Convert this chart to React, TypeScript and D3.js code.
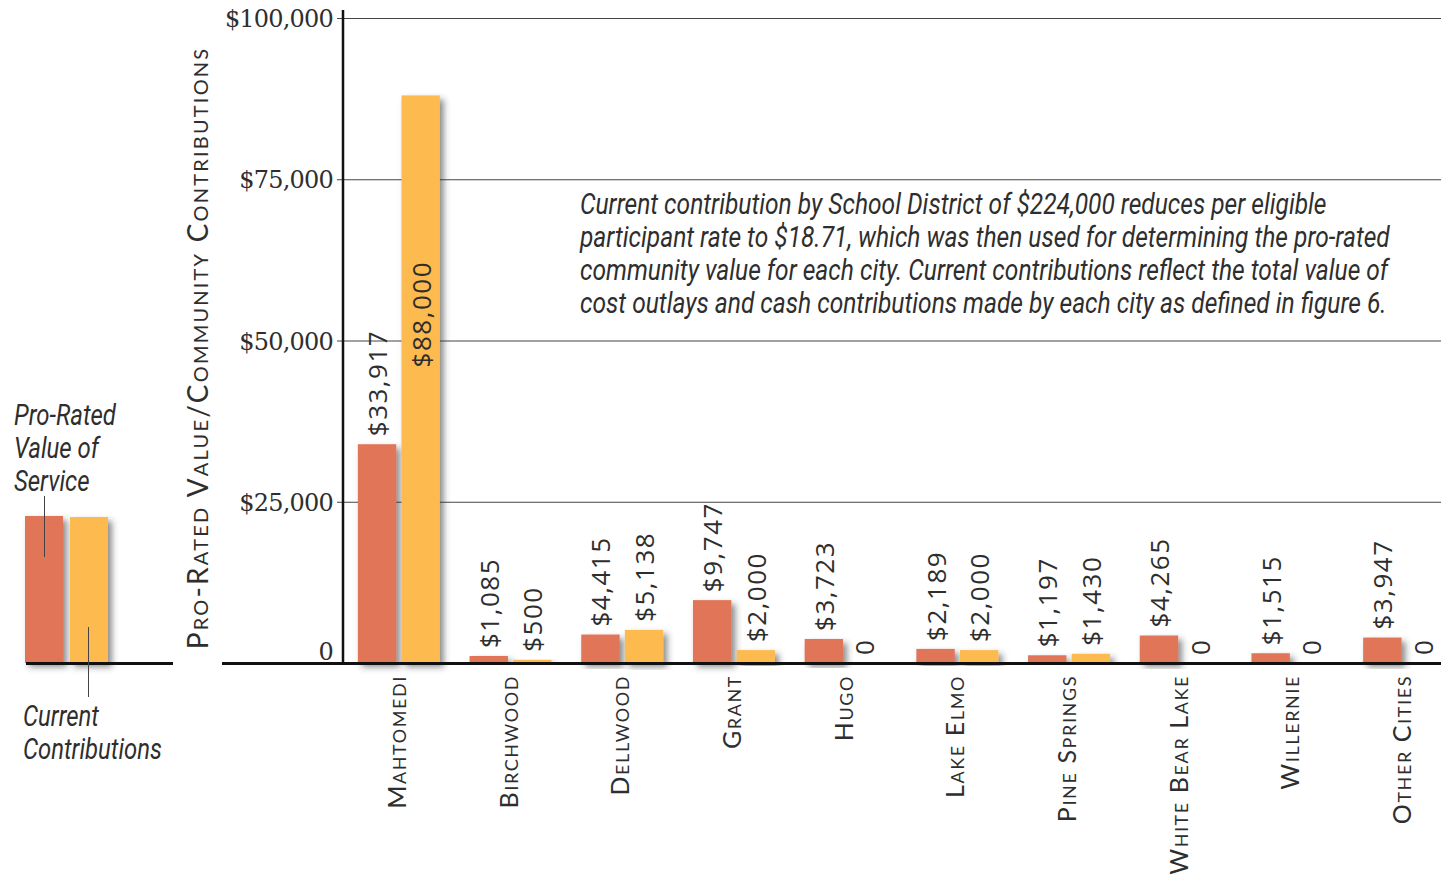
import React, { useEffect, useRef } from "react";
import * as d3 from "d3";

// ---------- data ----------
const cities = [
  "Mahtomedi",
  "Birchwood",
  "Dellwood",
  "Grant",
  "Hugo",
  "Lake Elmo",
  "Pine Springs",
  "White Bear Lake",
  "Willernie",
  "Other Cities",
];
const proRatedValue = [33917, 1085, 4415, 9747, 3723, 2189, 1197, 4265, 1515, 3947];
const currentContributions = [88000, 500, 5138, 2000, 0, 2000, 1430, 0, 0, 0];
const seriesKeys = ["proRated", "current"];
const yTicks = [0, 25000, 50000, 75000, 100000];
const yAxisTitle = "Pro-Rated Value/Community Contributions";
const legendTopLines = ["Pro-Rated", "Value of", "Service"];
const legendBottomLines = ["Current", "Contributions"];
const annotationLines = [
  "Current contribution by School District of $224,000 reduces per eligible",
  "participant rate to $18.71, which was then used for determining the pro-rated",
  "community value for each city. Current contributions reflect the total value of",
  "cost outlays and cash contributions made by each city as defined in figure 6.",
];

// ---------- style ----------
const W = 1441;
const H = 875;
const RED = "#E07459";
const ORANGE = "#FDBB4F";
const TEXT = "#2e2e2e";
const SANS = "Lato, 'Open Sans', sans-serif";
const ITALIC = "Roboto, 'Open Sans', sans-serif";

export default function App() {
  const ref = useRef<SVGSVGElement>(null);

  useEffect(() => {
    const svg = d3.select(ref.current);
    svg.selectAll("*").remove();

    const defs = svg.append("defs");
    const f = defs
      .append("filter")
      .attr("id", "shadow")
      .attr("x", "-20%")
      .attr("y", "-20%")
      .attr("width", "160%")
      .attr("height", "140%");
    f.append("feDropShadow")
      .attr("dx", 4)
      .attr("dy", 4)
      .attr("stdDeviation", 3)
      .attr("flood-color", "#333")
      .attr("flood-opacity", 0.55);

    svg.append("rect").attr("width", W).attr("height", H).attr("fill", "#fff");

    const y0 = 663;
    const y = d3.scaleLinear().domain([0, 100000]).range([y0, 18]);
    const x = d3.scaleBand<string>().domain(cities).range([343, 1460]).padding(0);
    const xs = d3.scaleBand<string>().domain(seriesKeys).range([-41, 41]).paddingInner(0.12);
    const fmt = d3.format(",");
    const money = (v: number) => (v === 0 ? "0" : "$" + fmt(v));

    // gridlines
    const g = svg.append("g");
    g.selectAll("line.grid")
      .data(yTicks.filter((t) => t > 0))
      .join("line")
      .attr("x1", 337)
      .attr("x2", W)
      .attr("y1", (d) => y(d) + 0.5)
      .attr("y2", (d) => y(d) + 0.5)
      .attr("stroke", "#444")
      .attr("stroke-width", 1);

    // y tick labels
    g.selectAll("text.ytick")
      .data(yTicks)
      .join("text")
      .attr("x", 333)
      .attr("y", (d) => (d === 0 ? y(d) - 11 : y(d) + 1))
      .attr("text-anchor", "end")
      .attr("dominant-baseline", "central")
      .attr("font-family", "'DejaVu Serif', serif")
      .attr("font-size", 24)
      .attr("letter-spacing", -0.8)
      .attr("fill", TEXT)
      .text((d) => money(d));

    // y axis title
    svg
      .append("text")
      .attr("transform", `translate(197,348) rotate(-90)`)
      .attr("text-anchor", "middle")
      .attr("dominant-baseline", "central")
      .attr("font-family", SANS)
      .attr("font-size", 28)
      .style("font-variant", "small-caps")
      .attr("letter-spacing", 2.2)
      .attr("fill", TEXT)
      .text(yAxisTitle);

    // bars
    const rows = cities.map((c, i) => ({
      city: c,
      vals: [
        { key: "proRated", v: proRatedValue[i], color: RED },
        { key: "current", v: currentContributions[i], color: ORANGE },
      ],
    }));

    const groups = svg
      .append("g")
      .selectAll("g.city")
      .data(rows)
      .join("g")
      .attr("transform", (d) => `translate(${x(d.city)! + x.bandwidth() / 2},0)`);

    groups
      .selectAll("rect")
      .data((d) => d.vals.filter((v) => v.v > 0))
      .join("rect")
      .attr("x", (d) => xs(d.key)!)
      .attr("width", xs.bandwidth())
      .attr("y", (d) => y(d.v))
      .attr("height", (d) => y0 - y(d.v))
      .attr("fill", (d) => d.color)
      .attr("filter", "url(#shadow)");

    // value labels
    const insideOffset = 272;
    groups
      .selectAll("text.val")
      .data((d) => d.vals)
      .join("text")
      .attr("transform", (d) => {
        const cx = xs(d.key)! + xs.bandwidth() / 2 - (d.v === 0 ? 3 : 0);
        const top = y(d.v);
        const inside = d.v > 60000;
        const ys = inside ? top + insideOffset : top - 8;
        return `translate(${cx},${ys}) rotate(-90)`;
      })
      .attr("text-anchor", "start")
      .attr("dominant-baseline", "central")
      .attr("font-family", "'Open Sans', sans-serif")
      .attr("font-size", 26)
      .attr("letter-spacing", 1.5)
      .attr("fill", TEXT)
      .text((d) => money(d.v));

    // category labels
    groups
      .append("text")
      .attr("transform", `translate(-3,675) rotate(-90)`)
      .attr("text-anchor", "end")
      .attr("dominant-baseline", "central")
      .attr("font-family", SANS)
      .attr("font-size", 25)
      .style("font-variant", "small-caps")
      .attr("letter-spacing", 1.6)
      .attr("fill", TEXT)
      .text((d) => d.city);

    // axes
    svg
      .append("line")
      .attr("x1", 343)
      .attr("x2", 343)
      .attr("y1", 10)
      .attr("y2", y0)
      .attr("stroke", "#111")
      .attr("stroke-width", 2.5);
    svg
      .append("line")
      .attr("x1", 222)
      .attr("x2", W)
      .attr("y1", y0 + 0.5)
      .attr("y2", y0 + 0.5)
      .attr("stroke", "#111")
      .attr("stroke-width", 3);

    // legend
    const lg = svg.append("g");
    lg.append("rect")
      .attr("x", 25)
      .attr("y", 516)
      .attr("width", 38)
      .attr("height", y0 - 516)
      .attr("fill", RED)
      .attr("filter", "url(#shadow)");
    lg.append("rect")
      .attr("x", 70)
      .attr("y", 517)
      .attr("width", 38)
      .attr("height", y0 - 517)
      .attr("fill", ORANGE)
      .attr("filter", "url(#shadow)");
    lg.append("line")
      .attr("x1", 26)
      .attr("x2", 173)
      .attr("y1", y0 + 0.5)
      .attr("y2", y0 + 0.5)
      .attr("stroke", "#111")
      .attr("stroke-width", 3);
    lg.append("line")
      .attr("x1", 44.5)
      .attr("x2", 44.5)
      .attr("y1", 496)
      .attr("y2", 557)
      .attr("stroke", "#444")
      .attr("stroke-width", 1);
    lg.append("line")
      .attr("x1", 88.5)
      .attr("x2", 88.5)
      .attr("y1", 627)
      .attr("y2", 697)
      .attr("stroke", "#444")
      .attr("stroke-width", 1);

    const condensed = (
      lines: string[],
      x0: number,
      yBase: number,
      lh: number,
      targetWidth: number,
      size: number
    ) => {
      const gg = svg.append("g");
      const texts = gg
        .selectAll("text")
        .data(lines)
        .join("text")
        .attr("x", 0)
        .attr("y", (_d, i) => yBase + i * lh)
        .attr("font-family", ITALIC)
        .attr("font-style", "italic")
        .attr("font-size", size)
        .attr("fill", TEXT)
        .text((d) => d);
      let maxLen = 1;
      texts.each(function () {
        const l = (this as SVGTextElement).getComputedTextLength();
        if (l > maxLen) maxLen = l;
      });
      const s = targetWidth / maxLen;
      gg.attr("transform", `translate(${x0},0) scale(${s},1)`);
    };

    condensed(legendTopLines, 14, 425, 33, 102, 29);
    condensed(legendBottomLines, 23, 726, 33, 139, 29);
    condensed(annotationLines, 580, 214, 33, 810, 29);
  }, []);

  return (
    <svg
      ref={ref}
      width={W}
      height={H}
      style={{ position: "absolute", left: 0, top: 0, display: "block" }}
    />
  );
}
